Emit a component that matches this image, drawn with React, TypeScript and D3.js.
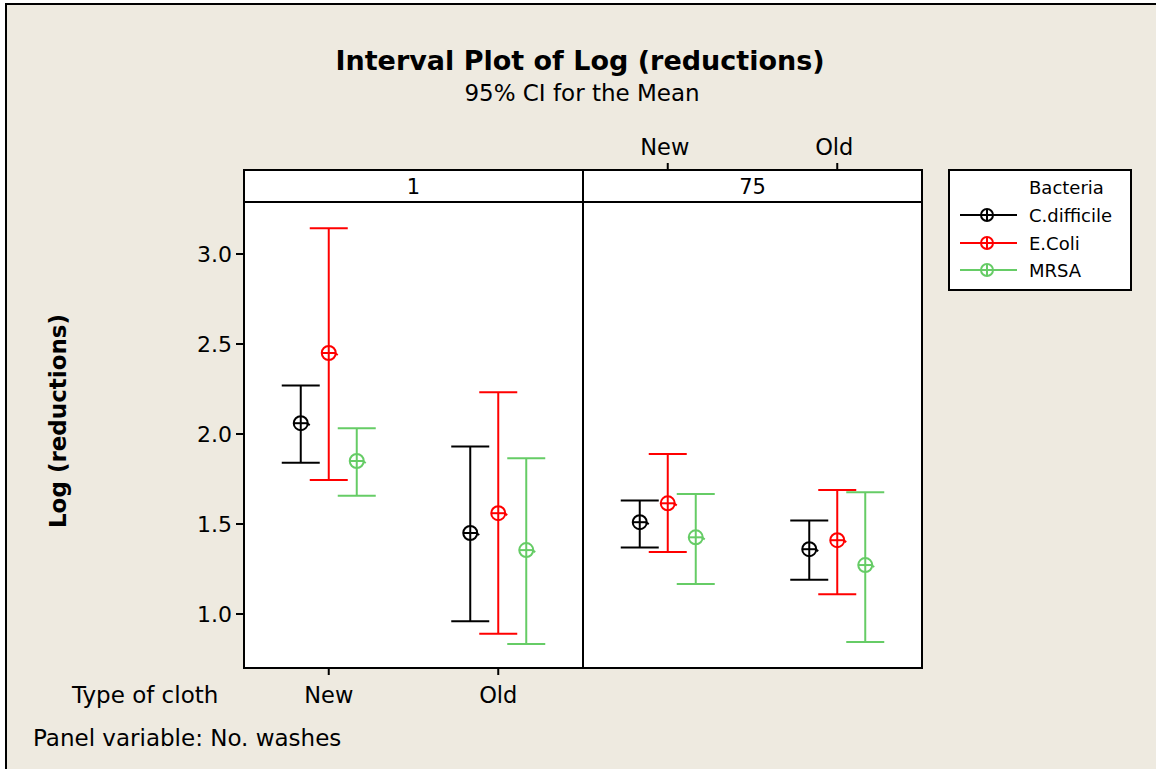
import React from "react";
import * as d3 from "d3";

const panels = ["1", "75"];
const cloths = ["New", "Old"];
const bacteria = ["C.difficile", "E.Coli", "MRSA"];
const colors = ["#000000", "#FF0000", "#66CC66"];
const yTicks = [1.0, 1.5, 2.0, 2.5, 3.0];

// order of cells: [1-New, 1-Old, 75-New, 75-Old]
const cellPanel = ["1", "1", "75", "75"];
const cellCloth = ["New", "Old", "New", "Old"];

const cdiffMean = [2.06, 1.45, 1.51, 1.36];
const cdiffLow = [1.84, 0.96, 1.37, 1.19];
const cdiffHigh = [2.27, 1.93, 1.63, 1.52];

const ecoliMean = [2.45, 1.56, 1.615, 1.41];
const ecoliLow = [1.745, 0.89, 1.345, 1.11];
const ecoliHigh = [3.143, 2.232, 1.889, 1.689];

const mrsaMean = [1.85, 1.355, 1.426, 1.272];
const mrsaLow = [1.657, 0.833, 1.167, 0.844];
const mrsaHigh = [2.032, 1.865, 1.667, 1.676];

const means = [cdiffMean, ecoliMean, mrsaMean];
const lows = [cdiffLow, ecoliLow, mrsaLow];
const highs = [cdiffHigh, ecoliHigh, mrsaHigh];

const FONT = "Tahoma, 'DejaVu Sans', Verdana, sans-serif";

export default function App() {
  const W = 1156, H = 769;
  const left = 244, right = 922, stripTop = 170, top = 202, bottom = 668;

  const y = d3.scaleLinear().domain([0.7, 3 + (254 - 202) / 180]).range([bottom, top]);
  const xPanel = d3.scaleBand<string>().domain(panels).range([left, right]).paddingInner(0);
  const xCloth = d3.scalePoint<string>().domain(cloths).range([0, xPanel.bandwidth()]).padding(0.5);
  const xOff = d3.scalePoint<string>().domain(bacteria).range([-28, 28]);
  const cap = 19;
  const r = 7;

  const marks: React.ReactNode[] = [];
  bacteria.forEach((b, bi) => {
    cellPanel.forEach((p, ci) => {
      const cx = (xPanel(p) as number) + (xCloth(cellCloth[ci]) as number) + (xOff(b) as number);
      const yl = y(lows[bi][ci]);
      const yh = y(highs[bi][ci]);
      const ym = y(means[bi][ci]);
      const c = colors[bi];
      marks.push(
        <g key={`${b}-${ci}`} stroke={c} strokeWidth={2} fill="none">
          <line x1={cx} x2={cx} y1={yh} y2={yl} />
          <line x1={cx - cap} x2={cx + cap} y1={yh} y2={yh} />
          <line x1={cx - cap} x2={cx + cap} y1={yl} y2={yl} />
          <circle cx={cx} cy={ym} r={r} />
          <line x1={cx - r} x2={cx + r} y1={ym} y2={ym} />
          <line x1={cx + r - 1} x2={cx + r + 2} y1={ym} y2={ym + 2} />
        </g>
      );
    });
  });

  const lx = 960, lsym = 987;
  const legendY = [215, 243, 270];

  return (
    <svg width={W} height={H} style={{ position: "absolute", left: 0, top: 0, background: "#ffffff" }} fontFamily={FONT}>
      <rect x={6} y={4} width={W + 10} height={H + 10} fill="#EEEAE0" stroke="#000" strokeWidth={2} />
      <text x={580} y={70} textAnchor="middle" fontSize={27} fontWeight="bold">Interval Plot of Log (reductions)</text>
      <text x={582} y={101} textAnchor="middle" fontSize={23}>95% CI for the Mean</text>

      {/* plot area */}
      <rect x={left} y={stripTop} width={right - left} height={bottom - stripTop} fill="#fff" />
      {panels.map((p) => (
        <g key={p}>
          <rect x={xPanel(p)} y={stripTop} width={xPanel.bandwidth()} height={top - stripTop} fill="none" stroke="#000" strokeWidth={2} />
          <text x={(xPanel(p) as number) + xPanel.bandwidth() / 2} y={194} textAnchor="middle" fontSize={21}>{p}</text>
          <rect x={xPanel(p)} y={top} width={xPanel.bandwidth()} height={bottom - top} fill="none" stroke="#000" strokeWidth={2} />
        </g>
      ))}

      {/* y axis */}
      {yTicks.map((t) => (
        <g key={t}>
          <line x1={left - 8} x2={left} y1={y(t)} y2={y(t)} stroke="#000" strokeWidth={2} />
          <text x={left - 12} y={y(t) + 8} textAnchor="end" fontSize={22}>{t.toFixed(1)}</text>
        </g>
      ))}
      <text transform={`translate(66,${421}) rotate(-90)`} textAnchor="middle" fontSize={23} fontWeight="bold">Log (reductions)</text>

      {/* bottom axis for panel 1 */}
      {cloths.map((c) => {
        const x = (xPanel(panels[0]) as number) + (xCloth(c) as number);
        return (
          <g key={`b-${c}`}>
            <line x1={x} x2={x} y1={bottom} y2={bottom + 7} stroke="#000" strokeWidth={2} />
            <text x={x} y={703} textAnchor="middle" fontSize={22.5}>{c}</text>
          </g>
        );
      })}
      {/* top axis for panel 75 */}
      {cloths.map((c) => {
        const x = (xPanel(panels[1]) as number) + (xCloth(c) as number);
        return (
          <g key={`t-${c}`}>
            <line x1={x} x2={x} y1={stripTop} y2={stripTop - 7} stroke="#000" strokeWidth={2} />
            <text x={x - 3} y={155} textAnchor="middle" fontSize={22.5}>{c}</text>
          </g>
        );
      })}
      <text x={72} y={703} fontSize={23}>Type of cloth</text>
      <text x={33} y={746} fontSize={23}>Panel variable: No. washes</text>

      {marks}

      {/* legend */}
      <rect x={949} y={170} width={182} height={120} fill="#fff" stroke="#000" strokeWidth={2} />
      <text x={1029} y={194} fontSize={18}>Bacteria</text>
      {bacteria.map((b, i) => (
        <g key={`l-${b}`}>
          <g stroke={colors[i]} strokeWidth={2} fill="none">
            <line x1={lx} x2={1017} y1={legendY[i]} y2={legendY[i]} />
            <circle cx={lsym} cy={legendY[i]} r={6} />
            <line x1={lsym} x2={lsym} y1={legendY[i] - 6} y2={legendY[i] + 6} />
          </g>
          <text x={1029} y={legendY[i] + 7} fontSize={18}>{b}</text>
        </g>
      ))}
    </svg>
  );
}
